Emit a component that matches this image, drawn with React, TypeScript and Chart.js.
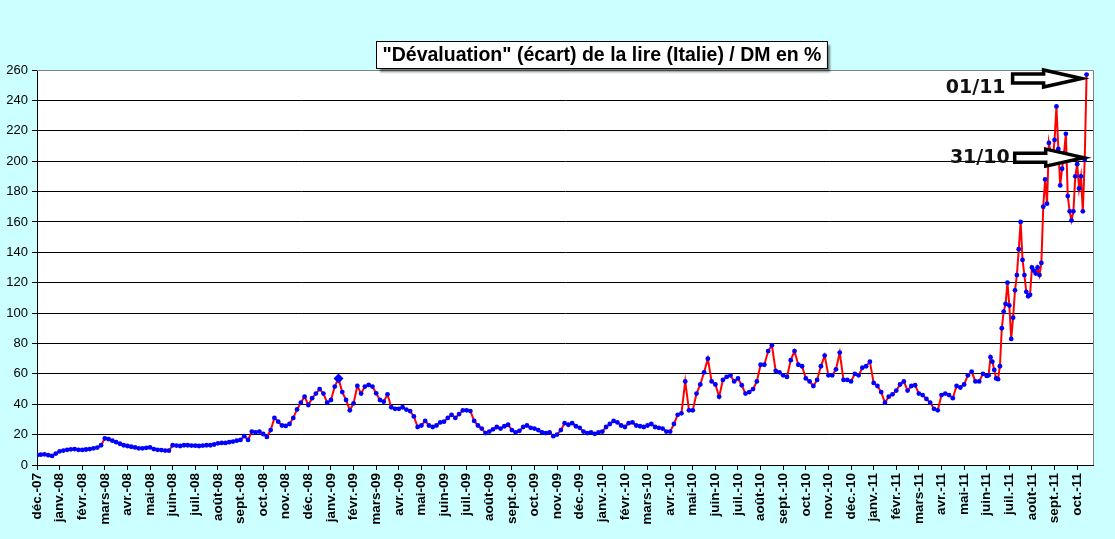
import { useEffect, useRef } from "react";
import { Chart, registerables } from "chart.js";

Chart.register(...registerables);

const chartTitle = '"Dévaluation" (écart) de la lire (Italie) / DM en %';

const monthLabels = [
  "déc.-07",
  "janv.-08", "févr.-08", "mars-08", "avr.-08", "mai-08", "juin-08",
  "juil.-08", "août-08", "sept.-08", "oct.-08", "nov.-08", "déc.-08",
  "janv.-09", "févr.-09", "mars-09", "avr.-09", "mai-09", "juin-09",
  "juil.-09", "août-09", "sept.-09", "oct.-09", "nov.-09", "déc.-09",
  "janv.-10", "févr.-10", "mars-10", "avr.-10", "mai-10", "juin-10",
  "juil.-10", "août-10", "sept.-10", "oct.-10", "nov.-10", "déc.-10",
  "janv.-11", "févr.-11", "mars-11", "avr.-11", "mai-11", "juin-11",
  "juil.-11", "août-11", "sept.-11", "oct.-11",
];

// six readings per month, déc.-07 .. déc.-08
const ecart2008 = [
  6.5, 6.8, 7, 6.5, 6, 7.5,
  9, 9.5, 10, 10.3, 10.5, 10,
  9.9, 10.2, 10.5, 11, 11.5, 13,
  17.5, 17, 16, 15, 14, 13,
  12.5, 12, 11.6, 11, 11, 11.3,
  11.6, 10.5, 10, 9.8, 9.5, 9.4,
  13, 12.8, 12.5, 13, 13, 12.8,
  12.7, 12.5, 12.8, 13, 13, 13.5,
  14.3, 14.5, 14.5, 15, 15.4, 16,
  16.5, 19, 16.5, 22, 21.5, 22,
  20.4, 18.5, 23, 31, 28.5, 26,
  25.7, 27, 31, 36.6, 41, 45,
  39.5, 44, 47, 50, 47, 41,
];

// janv.-09 .. déc.-09
const ecart2009 = [
  42.8, 51.6, 57, 48, 42.8, 36,
  40.6, 52, 47, 51.6, 52.7, 51.6,
  47.2, 42.8, 41.7, 46.5, 38, 37,
  37, 38, 36.5, 35.5, 32, 25,
  26, 29, 26, 25, 26, 28,
  28.5, 31, 33, 31, 33.5, 36,
  36, 35.5, 29, 26, 24, 21,
  22, 23.5, 25, 24, 25.5, 26.5,
  23, 21.5, 22.5, 25, 26, 24.5,
  24, 23, 21.5, 21, 21.5, 19,
  20, 23, 27.5, 26.5, 27.5, 25.5,
  24.5, 22, 21, 21.5, 20.5, 21.5,
];

// janv.-10 .. déc.-10
const ecart2010 = [
  22, 25, 27, 29, 28, 26,
  25, 27.5, 28, 26, 25.5, 25,
  26, 27, 25, 24.5, 24, 22,
  22, 27, 33, 34, 55, 36,
  36, 47, 53, 61, 70, 55,
  53, 45, 56, 58, 59, 55,
  57, 52.5, 47, 48, 50, 55,
  66, 66, 75, 78.8, 62, 61,
  59, 58, 69, 75, 66, 65,
  57, 55, 52, 56, 65, 72,
  59, 59, 63, 74, 56, 56,
  55, 60, 59, 64, 65, 68,
];

// janv.-11 .. mai-11
const ecart2011a = [
  54, 52, 48, 41, 45, 46.5,
  49, 53, 55, 49, 52, 52.5,
  47, 46, 43.5, 41, 37, 36,
  46, 47, 46, 44, 52, 51,
  53, 59, 61.5, 55, 55, 60,
];

// twelve readings per month, juin-11 .. 31/10 and 01/11
const ecart2011b = [
  58.6, 59, 71, 68, 62.6, 57, 56.5, 65, 90, 101, 106, 120,
  105, 83, 97, 115, 125, 142, 160, 135, 125, 114, 111, 112,
  130, 128, 126, 130, 125, 133, 170, 188, 172, 212, 205, 200,
  214, 236, 208, 184, 195, 205, 218, 177, 167, 161, 167, 190,
  198, 182, 190, 167, 201, 257,
];

const yTicks = [0, 20, 40, 60, 80, 100, 120, 140, 160, 180, 200, 220, 240, 260];

const markedIndex = 80; // big diamond in janv.-09

const App = () => {
  const chartRef = useRef<HTMLCanvasElement>(null);

  useEffect(() => {
    if (!chartRef.current) return;

    const coarse = [...ecart2008, ...ecart2009, ...ecart2010, ...ecart2011a];
    const points = [
      ...coarse.map((v, i) => ({ x: i / 6, y: v })),
      ...ecart2011b.map((v, i) => ({ x: coarse.length / 6 + i / 12, y: v })),
    ];
    const lastIdx = points.length - 1;

    const decorPlugin = {
      id: "decor",
      beforeDraw(chart: any) {
        const { ctx, chartArea } = chart;
        ctx.save();
        ctx.fillStyle = "#ffffff";
        ctx.fillRect(chartArea.left, chartArea.top, chartArea.right - chartArea.left, chartArea.bottom - chartArea.top);
        ctx.restore();
      },
      afterDraw(chart: any) {
        const { ctx, chartArea, scales } = chart;
        ctx.save();
        // grey frame top / right
        ctx.strokeStyle = "#808080";
        ctx.lineWidth = 1;
        ctx.beginPath();
        ctx.moveTo(chartArea.left, chartArea.top + 0.5);
        ctx.lineTo(chartArea.right + 0.5, chartArea.top + 0.5);
        ctx.lineTo(chartArea.right + 0.5, chartArea.bottom);
        ctx.stroke();

        // title box
        ctx.font = "bold 19.5px 'Liberation Sans', Arial, sans-serif";
        const tw = ctx.measureText(chartTitle).width;
        const bw = tw + 12;
        const bh = 27;
        const bx = Math.round(601 - bw / 2) + 0.5;
        const by = 41.5;
        ctx.shadowColor = "rgba(0,0,0,0.5)";
        ctx.shadowOffsetX = 3;
        ctx.shadowOffsetY = 3;
        ctx.shadowBlur = 2;
        ctx.fillStyle = "#ffffff";
        ctx.fillRect(bx, by, bw, bh);
        ctx.shadowColor = "transparent";
        ctx.strokeStyle = "#000";
        ctx.strokeRect(bx, by, bw, bh);
        ctx.fillStyle = "#000";
        ctx.textAlign = "center";
        ctx.textBaseline = "middle";
        ctx.fillText(chartTitle, bx + bw / 2, by + bh / 2 + 1);

        // arrows + date labels
        const arrow = (tipX: number, tipY: number) => {
          const headLen = 38, headHalf = 8.5, shaftLen = 31, shaftHalf = 4.5;
          const hb = tipX - headLen;
          ctx.beginPath();
          ctx.moveTo(tipX, tipY);
          ctx.lineTo(hb, tipY - headHalf);
          ctx.lineTo(hb, tipY - shaftHalf);
          ctx.lineTo(hb - shaftLen, tipY - shaftHalf);
          ctx.lineTo(hb - shaftLen, tipY + shaftHalf);
          ctx.lineTo(hb, tipY + shaftHalf);
          ctx.lineTo(hb, tipY + headHalf);
          ctx.closePath();
          ctx.fillStyle = "#ffffff";
          ctx.fill();
          ctx.lineWidth = 3.5;
          ctx.lineJoin = "miter";
          ctx.strokeStyle = "#000";
          ctx.stroke();
          return hb - shaftLen;
        };
        const xs = scales.x, ys = scales.y;
        const p1 = points[lastIdx], p0 = points[lastIdx - 1];
        const a1 = arrow(xs.getPixelForValue(p1.x) - 5, ys.getPixelForValue(p1.y) + 4);
        const a0 = arrow(xs.getPixelForValue(p0.x) - 1, ys.getPixelForValue(p0.y) - 2);
        ctx.font = "bold 19px 'DejaVu Sans', Verdana, sans-serif";
        ctx.fillStyle = "#111";
        ctx.textAlign = "right";
        ctx.textBaseline = "middle";
        ctx.fillText("01/11", a1 - 7, ys.getPixelForValue(p1.y) + 14);
        ctx.fillText("31/10", a0 - 5, ys.getPixelForValue(p0.y) - 2);
        ctx.restore();
      },
    };

    const chart = new Chart(chartRef.current, {
      type: "line",
      data: {
        datasets: [
          {
            data: points,
            borderColor: "#ff0000",
            borderWidth: 2,
            pointBackgroundColor: "#0000ff",
            pointBorderWidth: 0,
            pointRadius: (c: any) => (c.dataIndex === markedIndex ? 5 : 2.4),
            pointStyle: (c: any) => (c.dataIndex === markedIndex ? "rectRot" : "circle"),
            tension: 0,
          },
        ],
      },
      options: {
        animation: false,
        responsive: false,
        layout: { padding: { top: 70, right: 22, left: 0, bottom: 0 } },
        plugins: { legend: { display: false }, tooltip: { enabled: false }, title: { display: false } },
        scales: {
          x: {
            type: "linear",
            min: 0,
            max: 46.7,
            afterFit: (s: any) => { s.height = 74; },
            border: { display: true, color: "#000", width: 1 },
            grid: { drawOnChartArea: false, color: "#000", tickLength: 5 },
            ticks: {
              stepSize: 1,
              includeBounds: false,
              autoSkip: false,
              minRotation: 90,
              maxRotation: 90,
              padding: 3,
              color: "#000",
              font: { family: "'Liberation Sans', Arial, sans-serif", size: 13.5, weight: "bold" },
              callback: (v: any) => monthLabels[v] ?? "",
            },
          },
          y: {
            min: 0,
            max: 260,
            afterFit: (s: any) => { s.width = 37; },
            afterBuildTicks: (s: any) => { s.ticks = yTicks.map((v) => ({ value: v })); },
            border: { display: true, color: "#000", width: 1 },
            grid: { color: "#000", lineWidth: 1, tickLength: 5 },
            ticks: {
              color: "#000",
              padding: 4,
              font: { family: "'Liberation Sans', Arial, sans-serif", size: 13 },
            },
          },
        },
      },
      plugins: [decorPlugin],
    } as any);

    return () => {
      chart.destroy();
    };
  }, []);

  return (
    <div style={{ position: "fixed", left: 0, top: 0, width: 1115, height: 539, background: "#ccffff" }}>
      <canvas ref={chartRef} width={1115} height={539}></canvas>
    </div>
  );
};

export default App;
